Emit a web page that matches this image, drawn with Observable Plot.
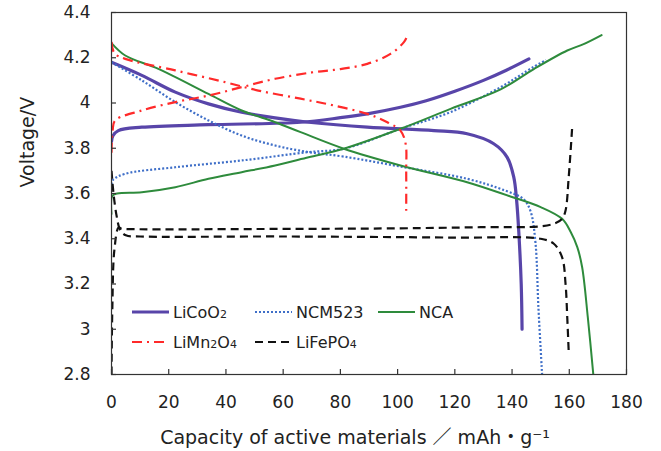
<!DOCTYPE html>
<html>
<head>
<meta charset="utf-8">
<script src="https://cdn.jsdelivr.net/npm/d3@7"></script>
<script src="https://cdn.jsdelivr.net/npm/@observablehq/plot@0.6"></script>
<style>
  body { margin: 0; background: #fff; }
  #chart { width: 661px; height: 451px; }
</style>
</head>
<body>
<div id="chart"></div>
<script>
// Charge / discharge curves: [capacity (mAh/g), voltage (V)]
const licoo2Charge = [[0,3.83],[0.5,3.855],[2.4,3.878],[10.6,3.893],[33.9,3.904],[66.1,3.915],[80,3.935],[89.4,3.952],[101,3.981],[110,4.01],[120,4.052],[130,4.1],[138,4.145],[145.9,4.195]];
const licoo2Discharge = [[0,4.18],[10.6,4.122],[22.3,4.048],[33.9,3.996],[45.5,3.959],[57.2,3.934],[68.9,3.915],[89.4,3.893],[112.7,3.878],[124.3,3.864],[133.6,3.82],[138.3,3.76],[140.6,3.672],[141.6,3.569],[142.4,3.42],[143.2,3.2],[143.5,3.0]];

const ncm523Charge = [[0,3.64],[0.5,3.66],[4.8,3.687],[22.3,3.716],[45.5,3.746],[68.9,3.783],[81.2,3.798],[101,3.886],[118.5,3.96],[136,4.07],[147.6,4.16],[151.9,4.19]];
const ncm523Discharge = [[0,4.18],[10.6,4.1],[22.3,4.004],[33.9,3.923],[45.5,3.856],[57.2,3.812],[68.9,3.783],[81.2,3.763],[101,3.719],[124.3,3.665],[137.6,3.613],[144,3.575],[146.5,3.52],[148.2,3.38],[149.2,3.1],[150.5,2.8]];

const ncaCharge = [[0,3.51],[0.3,3.59],[2,3.6],[10.6,3.606],[22.3,3.628],[33.9,3.665],[45.5,3.694],[57.2,3.724],[68.9,3.76],[81.2,3.798],[101,3.886],[118.5,3.974],[136,4.06],[147.6,4.15],[159.3,4.232],[165,4.26],[171.3,4.3]];
const ncaDischarge = [[0,4.265],[4.8,4.21],[16.4,4.151],[33.9,4.04],[45.5,3.967],[57.2,3.915],[66.1,3.871],[81.2,3.798],[101,3.724],[124.3,3.65],[139.4,3.587],[150,3.54],[157.5,3.488],[160.5,3.43],[162.8,3.363],[164.5,3.274],[166.5,3.05],[168.4,2.8]];

const limn2o4Charge = [[0,3.78],[0.4,3.88],[1.3,3.923],[10.6,3.967],[22.3,4.004],[33.9,4.033],[45.5,4.07],[57.2,4.107],[70,4.135],[80,4.15],[89.4,4.173],[97.5,4.217],[102.2,4.269],[103.5,4.3]];
const limn2o4Discharge = [[0,4.27],[1,4.22],[4.8,4.195],[22.3,4.144],[39.7,4.092],[51.3,4.055],[66.1,4.019],[77.7,3.989],[89.4,3.952],[96.4,3.915],[101,3.878],[102.8,3.82],[103,3.7],[103,3.52]];

const lifepo4Charge = [[0,2.8],[0.3,3.1],[1,3.35],[2.5,3.45],[3.5,3.445],[10,3.442],[50,3.443],[100,3.446],[129,3.451],[150,3.455],[155,3.468],[157.5,3.488],[158.7,3.525],[159.8,3.672],[161,3.89]];
const lifepo4Discharge = [[0,3.7],[0.7,3.6],[1.8,3.5],[3,3.44],[5,3.415],[10,3.41],[60,3.41],[120,3.405],[150,3.4],[154.6,3.378],[157.5,3.318],[158.7,3.2],[159.3,3.05],[159.8,2.9]];

const xTicks = [0,20,40,60,80,100,120,140,160,180];
const yTicks = [2.8,3,3.2,3.4,3.6,3.8,4,4.2,4.4];

const xLabel = "Capacity of active materials ／ mAh・g⁻¹";
const yLabel = "Voltage/V";

// Drawing styles per material (bottom to top)
const series = [
  {name: "LiCoO2",  chem: true,  curves: [licoo2Charge, licoo2Discharge],   stroke: "#5845a9", width: 3.2, dash: null},
  {name: "NCM523",  chem: false, curves: [ncm523Charge, ncm523Discharge],   stroke: "#3f6fc8", width: 2.2, dash: "2,2"},
  {name: "NCA",     chem: false, curves: [ncaCharge, ncaDischarge],         stroke: "#2e8b3c", width: 2,   dash: null},
  {name: "LiMn2O4", chem: true,  curves: [limn2o4Charge, limn2o4Discharge], stroke: "#ff2a2a", width: 2.2, dash: "10,5,2,5"},
  {name: "LiFePO4", chem: true,  curves: [lifepo4Charge, lifepo4Discharge], stroke: "#111111", width: 2.2, dash: "8,5"}
];

const curveMarks = series.map(s => {
  const rows = s.curves.flatMap((c, i) => c.map(([x, y]) => ({x, y, part: i})));
  return Plot.line(rows, {
    x: "x", y: "y", z: "part",
    stroke: s.stroke, strokeWidth: s.width,
    strokeDasharray: s.dash,
    strokeLinecap: s.dash ? "butt" : "round",
    curve: "catmull-rom", clip: true
  });
});

const svg = Plot.plot({
  width: 661,
  height: 451,
  marginLeft: 111,
  marginRight: 35,
  marginTop: 12,
  marginBottom: 77,
  x: {domain: [0, 180]},
  y: {domain: [2.8, 4.4]},
  style: {fontFamily: "'DejaVu Sans', 'Noto Sans CJK JP', sans-serif", fontSize: "17px", background: "#fff", color: "#222"},
  marks: [
    ...curveMarks,
    Plot.frame({stroke: "#333", strokeWidth: 1.2}),
    // inward tick marks
    Plot.tickX(xTicks, {x: d => d, insetTop: 357, stroke: "#333", strokeWidth: 1.2}),
    Plot.tickY(yTicks, {y: d => d, insetRight: 510, stroke: "#333", strokeWidth: 1.2}),
    Plot.axisX({ticks: xTicks, tickSize: 0, tickPadding: 21, label: null, fontSize: 17}),
    Plot.axisY({ticks: yTicks, tickSize: 0, tickPadding: 21, label: null, fontSize: 17, tickFormat: d => String(d)}),
    Plot.text([xLabel], {frameAnchor: "bottom", text: d => d, dx: -14, dy: 69, lineAnchor: "bottom", fontSize: 19, fill: "#222"}),
    Plot.text([yLabel], {frameAnchor: "left", text: d => d, rotate: -90, dx: -84, dy: -6, fontSize: 19, fill: "#222"})
  ]
});

// Legend inside the plot area
const legendCols = [132, 255, 378];
const legendRows = [312, 342];
const legendSlots = [[0,0],[1,0],[2,0],[0,1],[1,1]];
const legend = d3.select(svg).append("g")
  .attr("font-family", "'DejaVu Sans', sans-serif")
  .attr("font-size", 16)
  .attr("text-anchor", "start")
  .attr("fill", "#222");
series.forEach((s, k) => {
  const [c, r] = legendSlots[k];
  const x0 = legendCols[c], y0 = legendRows[r];
  legend.append("line")
    .attr("x1", x0).attr("x2", x0 + 37).attr("y1", y0).attr("y2", y0)
    .attr("stroke", s.stroke).attr("stroke-width", s.width)
    .attr("stroke-dasharray", s.dash);
  const t = legend.append("text").attr("x", x0 + 41).attr("y", y0).attr("dy", "0.36em");
  const parts = s.chem ? s.name.split(/(\d+)/).filter(p => p) : [s.name];
  parts.forEach(p => {
    const sp = t.append("tspan").text(p);
    if (s.chem && /^\d+$/.test(p)) sp.attr("font-size", 11);
  });
});

document.getElementById("chart").appendChild(svg);
</script>
</body>
</html>
